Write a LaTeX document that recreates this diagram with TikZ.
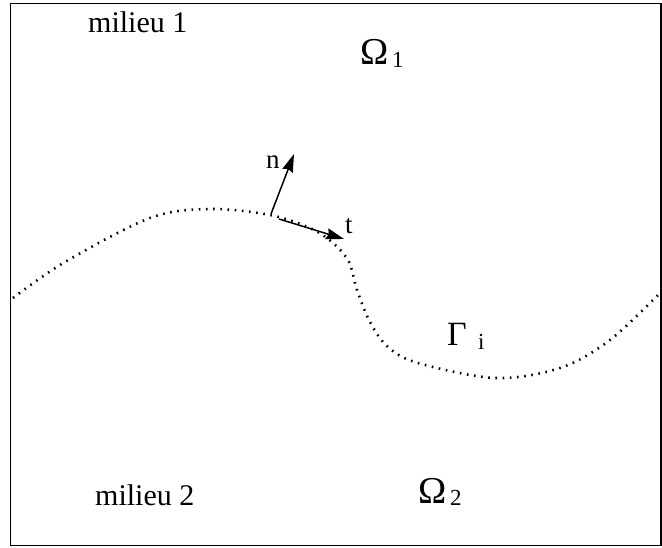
\documentclass[tikz,border=0pt]{standalone}
\usepackage{fontspec}
\setmainfont{Liberation Serif}
\usetikzlibrary{arrows.meta}
\begin{document}
\begin{tikzpicture}[x=1pt,y=-1pt,
  lbl/.style={inner sep=0pt,anchor=base west},
  vec/.style={line width=1.5pt,-{Stealth[length=18pt,width=11pt,inset=2pt]}},
  iface/.style={line width=2.6pt,dash pattern=on 1.6pt off 5.6pt}]
\useasboundingbox (0,0) rectangle (662,548);
\draw[line width=1.3pt] (10.5,3.5) rectangle (661,545.5);
% interface
\draw[iface] plot[smooth,tension=0.55] coordinates {(13,298) (65,262) (150,218) (210,209) (270,215) (310,228) (333,243) (349,262) (357,290) (370,322) (388,347) (418,363) (495,378) (560,368) (610,340) (660,293)};
% vectors
\coordinate (n0) at (271,214);
\coordinate (n1) at (294,154);
\coordinate (t0) at (279,219);
\coordinate (t1) at (344,239);
\draw[vec] (n0) -- (n1);
\draw[vec] (t0) -- (t1);
\node[lbl,font=\fontsize{27}{27}\selectfont] (nl) at (266,169) {n};
\node[lbl,font=\fontsize{27}{27}\selectfont] (tl) at (345,234) {t};
% texts
\node[lbl,font=\fontsize{30}{30}\selectfont] (m1) at (88,33) {milieu 1};
\node[lbl,font=\fontsize{30}{30}\selectfont] (m2) at (95,505) {milieu 2};
\node[lbl,font=\fontsize{38}{38}\selectfont] (O1) at (360,65) {Ω};
\node[lbl,font=\fontsize{23}{23}\selectfont] (O1s) at (392,68) {1};
\node[lbl,font=\fontsize{38}{38}\selectfont] (O2) at (418,503) {Ω};
\node[lbl,font=\fontsize{23}{23}\selectfont] (O2s) at (450,505) {2};
\node[lbl,font=\fontsize{34}{34}\selectfont] (G) at (447,345) {Γ};
\node[lbl,font=\fontsize{23}{23}\selectfont] (Gs) at (478,350) {i};
\end{tikzpicture}
\end{document}
